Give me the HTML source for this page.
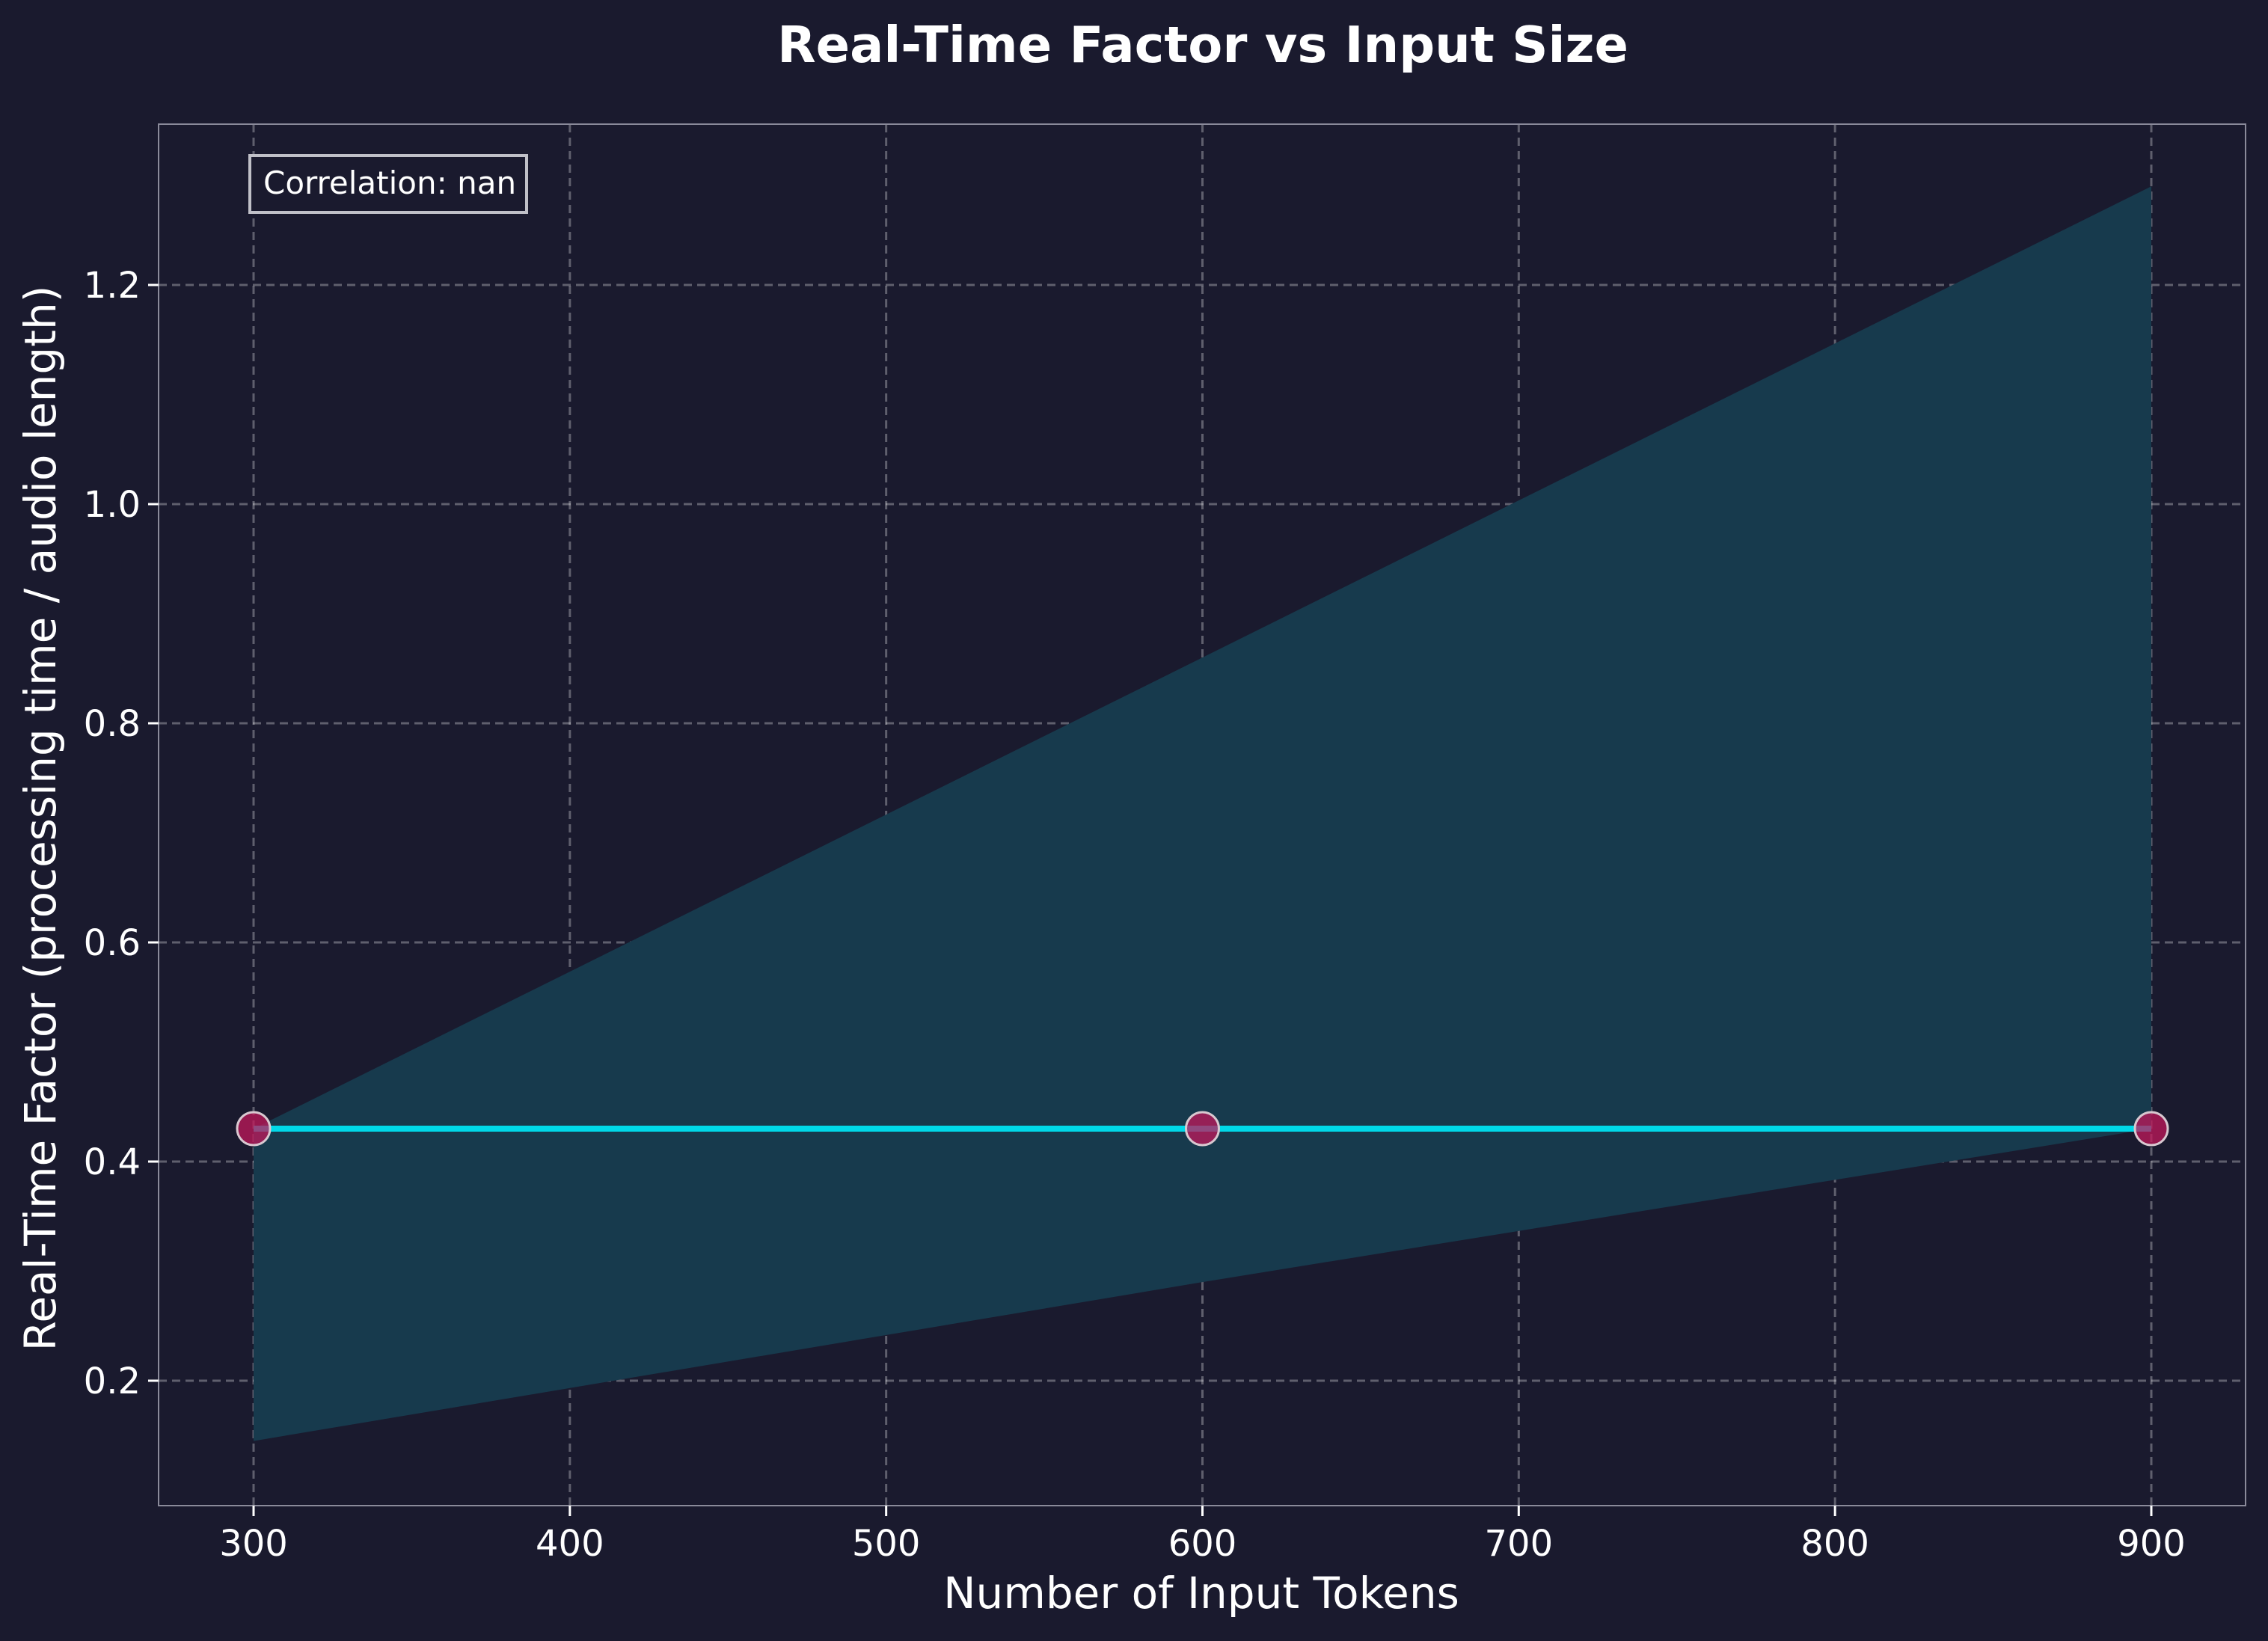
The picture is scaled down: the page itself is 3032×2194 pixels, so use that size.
<!DOCTYPE html>
<html><head><meta charset="utf-8"><style>
html,body{margin:0;padding:0;background:#1a1a2e;}
svg{display:block;font-family:"DejaVu Sans","Liberation Sans",sans-serif;}
</style></head><body>
<svg id="chart" width="3032" height="2194" viewBox="0 0 3032 2194" xmlns="http://www.w3.org/2000/svg">
<rect width="3032" height="2194" fill="#1a1a2e"/>
<text x="1608" y="83" text-anchor="middle" font-size="67" font-weight="bold" fill="#ffffff">Real-Time Factor vs Input Size</text>
<g id="grid"></g>
<g id="band"></g>
<g id="series"></g>
<rect x="212" y="166" width="2790" height="1847" fill="none" stroke="#8a8a9a" stroke-width="2"/>
<g id="axes"></g>
<rect x="334" y="208" width="370" height="76" fill="#1a1a2e" stroke="#c0c0c8" stroke-width="4"/>
<text x="352" y="259" font-size="42" fill="#ffffff">Correlation: nan</text>
<text x="1606" y="2150" text-anchor="middle" font-size="58" fill="#ffffff">Number of Input Tokens</text>
<text transform="translate(74,1094) rotate(-90)" text-anchor="middle" font-size="58" fill="#ffffff">Real-Time Factor (processing time / audio length)</text>
</svg>
<script>
const xValues = [300, 600, 900];
const yValues = [0.43, 0.43, 0.43];
const bandUpper = [0.43, 0.86, 1.29];
const bandLower = [0.145, 0.29, 0.43];
const xTicks = [300, 400, 500, 600, 700, 800, 900];
const yTicks = [0.2, 0.4, 0.6, 0.8, 1.0, 1.2];
const yTickLabels = ["0.2", "0.4", "0.6", "0.8", "1.0", "1.2"];

const NS = "http://www.w3.org/2000/svg";
const L = 212, R = 3002, T = 166, B = 2013;
function xs(v){ return 339 + (v - 300) * (2876 - 339) / 600; }
function ys(v){ return 1846 - (v - 0.2) * (1846 - 381) / 1.0; }
function mk(tag, attrs, parent){
  const e = document.createElementNS(NS, tag);
  for (const k in attrs) e.setAttribute(k, attrs[k]);
  parent.appendChild(e);
  return e;
}
const grid = document.getElementById('grid');
const axes = document.getElementById('axes');
xTicks.forEach(function(t){
  const g = mk('line', {x1: xs(t), x2: xs(t), y1: T, y2: B, stroke: '#ffffff', 'stroke-opacity': 0.3, 'stroke-width': 3, 'stroke-dasharray': '11 7'}, grid);
  
  
  const tk = mk('line', {x1: xs(t), x2: xs(t), y1: B, y2: B + 14, stroke: '#ffffff', 'stroke-width': 3}, axes);
  
  
  const lb = mk('text', {x: xs(t), y: 2080, 'text-anchor': 'middle', 'font-size': 48, fill: '#ffffff'}, axes);
  lb.textContent = String(t);
  
  
});
yTicks.forEach(function(t, i){
  const g = mk('line', {x1: L, x2: R, y1: ys(t), y2: ys(t), stroke: '#ffffff', 'stroke-opacity': 0.3, 'stroke-width': 3, 'stroke-dasharray': '11 7'}, grid);
  
  
  const tk = mk('line', {x1: L - 14, x2: L, y1: ys(t), y2: ys(t), stroke: '#ffffff', 'stroke-width': 3}, axes);
  
  
  const lb = mk('text', {x: L - 24, y: ys(t) + 17, 'text-anchor': 'end', 'font-size': 48, fill: '#ffffff'}, axes);
  lb.textContent = yTickLabels[i];
  
  
});
const band = document.getElementById('band');
let pts = [];
xValues.forEach(function(x, i){ pts.push(xs(x) + ',' + ys(bandUpper[i])); });
for (let i = xValues.length - 1; i >= 0; i--) pts.push(xs(xValues[i]) + ',' + ys(bandLower[i]));
const poly = mk('polygon', {points: pts.join(' '), fill: '#173a4d'}, band);


const series = document.getElementById('series');
const linePts = xValues.map(function(x, i){ return xs(x) + ',' + ys(yValues[i]); }).join(' ');
const line = mk('polyline', {points: linePts, fill: 'none', stroke: '#00d9e9', 'stroke-width': 8}, series);


xValues.forEach(function(x, i){
  const c = mk('circle', {cx: xs(x), cy: ys(yValues[i]), r: 22, fill: '#c2185b', 'fill-opacity': 0.75, stroke: '#d8c8d0', 'stroke-width': 3}, series);
  
  
});
</script>
</body></html>
